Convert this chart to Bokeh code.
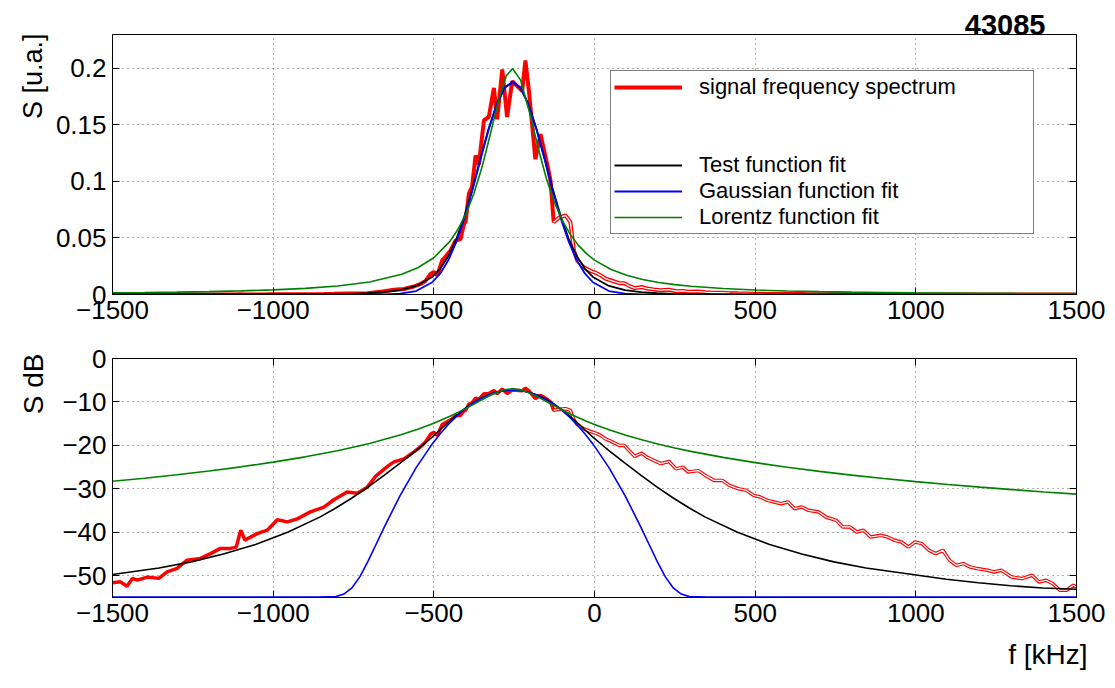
import numpy as np
from bokeh.plotting import figure
from bokeh.layouts import column
from bokeh.models import Range1d, LinearAxis, Legend, LegendItem, FixedTicker, Title
from bokeh.embed import file_html
from bokeh.resources import INLINE

FONT = "Liberation Sans"

# ---------------- data ----------------
freq_ticks = [-1500, -1000, -500, 0, 500, 1000, 1500]
freq_tick_labels = ["\u22121500", "\u22121000", "\u2212500", "0", "500", "1000", "1500"]
lin_ticks = [0, 0.05, 0.1, 0.15, 0.2]
lin_tick_labels = ["0", "0.05", "0.1", "0.15", "0.2"]
db_ticks = [-50, -40, -30, -20, -10, 0]
db_tick_labels = ["\u221250", "\u221240", "\u221230", "\u221220", "\u221210", "0"]

# measured signal spectrum (kHz, dB)
sig_f = [-1500, -1475, -1455, -1438, -1423, -1392, -1356, -1330, -1299, -1268,
         -1226, -1195, -1164, -1133, -1115, -1101, -1088, -1050, -1018, -987,
         -956, -925, -884, -842, -811, -770, -738, -707, -680, -660,
         -640, -624, -593, -562, -541, -526, -510, -500, -489, -474,
         -460, -448, -432, -417, -407, -401, -391, -381, -370, -360,
         -344, -329, -313, -303, -287, -272, -256, -235, -225, -215,
         -204, -184, -168, -152, -147, -137, -127, -111, -90, -75,
         -64, -54, -33, -12, 8, 19, 34, 50, 77, 93,
         109, 125, 147, 163, 184, 206, 232, 254, 275, 291,
         323, 345, 372, 398, 420, 447, 473, 495, 516, 538,
         559, 580, 602, 623, 645, 666, 698, 720, 752, 773,
         795, 816, 837, 859, 891, 912, 934, 955, 977, 998,
         1019, 1041, 1062, 1084, 1105, 1126, 1148, 1169, 1191, 1223,
         1244, 1266, 1298, 1330, 1362, 1383, 1405, 1426, 1448, 1469,
         1490, 1500]
sig_db = [-51.6, -51.4, -52.4, -50.6, -51.0, -50.3, -50.6, -49.1, -48.3, -46.4,
          -46.0, -44.9, -43.7, -43.7, -43.4, -39.5, -41.8, -40.3, -39.5, -37.1,
          -37.6, -36.9, -35.3, -34.2, -32.5, -30.7, -31.0, -29.6, -27.0, -25.8,
          -24.6, -23.8, -23.1, -21.5, -20.3, -19.2, -17.4, -17.0, -17.7, -15.2,
          -14.6, -14.1, -13.2, -13.1, -12.1, -11.9, -10.5, -10.2, -9.1, -9.4,
          -8.12, -8.04, -7.38, -8.10, -7.01, -8.04, -7.24, -7.38, -7.45, -6.84,
          -7.45, -9.22, -8.48, -9.17, -9.39, -9.96, -11.94, -11.68, -11.55, -11.94,
          -14.1, -15.2, -16.2, -16.8, -17.3, -17.7, -18.5, -19.0, -20.0, -20.0,
          -21.3, -22.5, -21.8, -22.7, -23.45, -24.2, -23.7, -25.4, -25.0, -26.1,
          -25.8, -26.9, -28.05, -28.05, -29.2, -29.96, -30.35, -31.49, -31.88, -32.64,
          -33.03, -33.41, -33.03, -34.56, -34.18, -34.94, -35.33, -36.47, -37.24, -38.77,
          -38.77, -39.92, -39.54, -41.07, -40.69, -41.07, -41.84, -42.22, -43.37, -42.22,
          -42.61, -44.14, -44.9, -44.14, -46.44, -47.59, -47.2, -47.97, -48.35, -48.73,
          -49.12, -48.73, -50.27, -50.65, -49.88, -51.42, -51.03, -51.8, -53.33, -53.33,
          -52.18, -52.57]

# test function fit (kHz, dB)
test_f = [-1500, -1355, -1255, -1155, -1055, -955, -855, -805, -755, -705,
          -655, -605, -555, -505, -480, -455, -430, -405, -380, -355,
          -330, -305, -280, -255, -230, -205, -180, -155, -130, -105,
          -80, -55, -30, -5, 45, 95, 145, 195, 245, 295,
          345, 445, 545, 645, 745, 845, 990, 1095, 1195, 1295,
          1395, 1500]
test_db = [-49.7, -48.2, -46.8, -45.0, -42.8, -40.0, -36.5, -34.4, -32.1, -29.6,
           -26.9, -24.1, -21.2, -18.1, -16.4, -14.7, -13.1, -11.6, -10.3, -9.2,
           -8.35, -7.75, -7.38, -7.26, -7.38, -7.75, -8.35, -9.2, -10.3, -11.6,
           -13.1, -14.7, -16.4, -18.1, -21.2, -24.1, -26.9, -29.6, -32.1, -34.4,
           -36.5, -40.0, -42.8, -45.0, -46.8, -48.2, -49.7, -50.8, -51.6, -52.3,
           -52.8, -53.1]

# Gaussian function fit (kHz, dB)
gauss_f = [-1500, -860, -805, -780, -755, -730, -705, -680, -655, -605,
           -555, -505, -480, -455, -430, -405, -380, -355, -330, -305,
           -280, -255, -230, -205, -180, -155, -130, -105, -80, -55,
           -30, -5, 45, 95, 145, 170, 195, 220, 245, 270,
           295, 350, 1500]
gauss_db = [-54.9, -54.9, -54.8, -54.2, -52.8, -50.2, -46.7, -42.8, -38.9, -31.55,
            -25.11, -19.65, -17.30, -15.19, -13.33, -11.72, -10.36, -9.24, -8.38, -7.76,
            -7.38, -7.26, -7.38, -7.76, -8.38, -9.24, -10.36, -11.72, -13.33, -15.19,
            -17.30, -19.65, -25.11, -31.55, -38.9, -42.8, -46.7, -50.2, -52.8, -54.2,
            -54.8, -54.9, -54.9]

# Lorentz function fit (kHz, dB)
lor_f = [-1500, -1400, -1300, -1200, -1100, -1000, -900, -800, -700, -600,
         -550, -500, -450, -425, -400, -375, -350, -325, -300, -275,
         -255, -230, -200, -175, -150, -125, -100, -75, -50, -25,
         0, 50, 100, 150, 200, 250, 300, 400, 500, 600,
         700, 800, 900, 1000, 1100, 1200, 1300, 1400, 1500]
lor_db = [-28.26, -27.54, -26.75, -25.89, -24.93, -23.85, -22.63, -21.22, -19.54, -17.48,
          -16.26, -14.88, -13.28, -12.40, -11.47, -10.48, -9.48, -8.51, -7.69, -7.14,
          -6.99, -7.22, -7.99, -8.89, -9.88, -10.88, -11.85, -12.76, -13.62, -14.42,
          -15.17, -16.52, -17.71, -18.77, -19.72, -20.58, -21.37, -22.76, -23.97, -25.03,
          -25.98, -26.83, -27.61, -28.33, -28.99, -29.60, -30.18, -30.72, -31.22]

series_names = ["signal frequency spectrum", "Test function fit",
                "Gaussian function fit", "Lorentz function fit"]

# ---------------- helpers ----------------
def to_lin(db):
    return 10.0 ** (np.asarray(db, dtype=float) / 10.0)


def style_fig(p, yticks, ylabels, top_axis=True):
    for ax in p.xaxis:
        ax.ticker = FixedTicker(ticks=freq_ticks)
        ax.major_label_overrides = dict(zip(freq_ticks, freq_tick_labels))
    for ax in p.yaxis:
        ax.ticker = FixedTicker(ticks=yticks)
        ax.major_label_overrides = dict(zip(yticks, ylabels))
    for ax in p.xaxis + p.yaxis:
        ax.major_label_text_font = FONT
        ax.major_label_text_font_size = "26px"
        ax.major_label_text_color = "black"
        ax.major_tick_in = 7
        ax.major_tick_out = 0
        ax.minor_tick_line_color = None
        ax.axis_line_color = "black"
        ax.major_tick_line_color = "black"
        ax.major_label_standoff = 6
    p.xgrid.ticker = FixedTicker(ticks=freq_ticks)
    p.ygrid.ticker = FixedTicker(ticks=yticks)
    for g in (p.xgrid, p.ygrid):
        g.grid_line_color = "#333333"
        g.grid_line_dash = "1 4"
        g.grid_line_alpha = 0.75
    # box-style inward ticks on the other sides (no labels)
    sides = [("right", yticks)]
    if top_axis:
        sides.append(("above", freq_ticks))
    for loc, ticks in sides:
        ax = LinearAxis(ticker=FixedTicker(ticks=ticks),
                        major_label_text_font_size="0px",
                        major_label_text_color=None,
                        major_label_standoff=0,
                        major_tick_in=7, major_tick_out=0,
                        minor_tick_line_color=None,
                        axis_line_color="black")
        p.add_layout(ax, loc)


def make_fig(height, y0, y1, btop, bbottom):
    return figure(width=1107, height=height,
                  x_range=Range1d(-1500, 1500), y_range=Range1d(y0, y1),
                  output_backend="svg", toolbar_location=None,
                  min_border_left=112, min_border_right=31,
                  min_border_top=btop, min_border_bottom=bbottom,
                  outline_line_color="black", outline_line_width=1,
                  background_fill_color="white", border_fill_color="white")


sig_f_arr = np.asarray(sig_f, dtype=float)
hollow = sig_f_arr >= -127

# ---------------- top panel (linear) ----------------
p1 = make_fig(334, 0, 0.23, 34, 40)
style_fig(p1, lin_ticks, lin_tick_labels, top_axis=False)
p1.title.text = "43085"
p1.title.align = "right"
p1.title.offset = 31
p1.title.standoff = 0
p1.title.text_font = FONT
p1.title.text_font_style = "bold"
p1.title.text_font_size = "29px"
p1.title.text_color = "black"

r_sig1 = p1.line(sig_f, to_lin(sig_db), line_color="#ff0000", line_width=4)
p1.line(sig_f_arr[hollow], to_lin(np.asarray(sig_db)[hollow]), line_color="white", line_width=1.3)
r_test1 = p1.line(test_f, to_lin(test_db), line_color="black", line_width=1.8)
r_gauss1 = p1.line(gauss_f, to_lin(gauss_db), line_color="#0000ff", line_width=1.8)
r_lor1 = p1.line(lor_f, to_lin(lor_db), line_color="#008000", line_width=1.6)
blank_a = p1.line([], [], line_alpha=0)
blank_b = p1.line([], [], line_alpha=0)

legend = Legend(items=[
    LegendItem(label=series_names[0], renderers=[r_sig1]),
    LegendItem(label=" ", renderers=[blank_a]),
    LegendItem(label=" ", renderers=[blank_b]),
    LegendItem(label=series_names[1], renderers=[r_test1]),
    LegendItem(label=series_names[2], renderers=[r_gauss1]),
    LegendItem(label=series_names[3], renderers=[r_lor1]),
], location=(498, 60), orientation="vertical",
    border_line_color="black", border_line_width=1.5,
    background_fill_color="white", background_fill_alpha=1.0,
    padding=3, spacing=0, margin=0,
    glyph_width=68, glyph_height=26, label_height=26, label_width=331,
    label_standoff=17, label_text_font=FONT, label_text_font_size="22px",
    label_text_color="black")
p1.add_layout(legend, "center")

p1.add_layout(Title(text="S [u.a.]", align="right", offset=-1, standoff=10,
                    text_font=FONT, text_font_size="27px",
                    text_font_style="normal", text_color="black"), "left")

# ---------------- bottom panel (dB) ----------------
p2 = make_fig(351, -55, 0, 24, 88)
style_fig(p2, db_ticks, db_tick_labels)

p2.line(sig_f, sig_db, line_color="#ff0000", line_width=3.5)
p2.line(sig_f_arr[hollow], np.asarray(sig_db)[hollow], line_color="white", line_width=1.2)
p2.line(test_f, test_db, line_color="black", line_width=1.6)
p2.line(gauss_f, gauss_db, line_color="#0000ff", line_width=1.6)
p2.line(lor_f, lor_db, line_color="#008000", line_width=1.6)

p2.add_layout(Title(text="S dB", align="right", offset=-5, standoff=21,
                    text_font=FONT, text_font_size="28px",
                    text_font_style="normal", text_color="black"), "left")
p2.add_layout(Title(text="f [kHz]", align="right", offset=-11, standoff=24,
                    text_font=FONT, text_font_size="28px",
                    text_font_style="normal", text_color="black"), "below")

layout = column(p1, p2, spacing=0)
open("out.html", "w").write(file_html(layout, INLINE))
